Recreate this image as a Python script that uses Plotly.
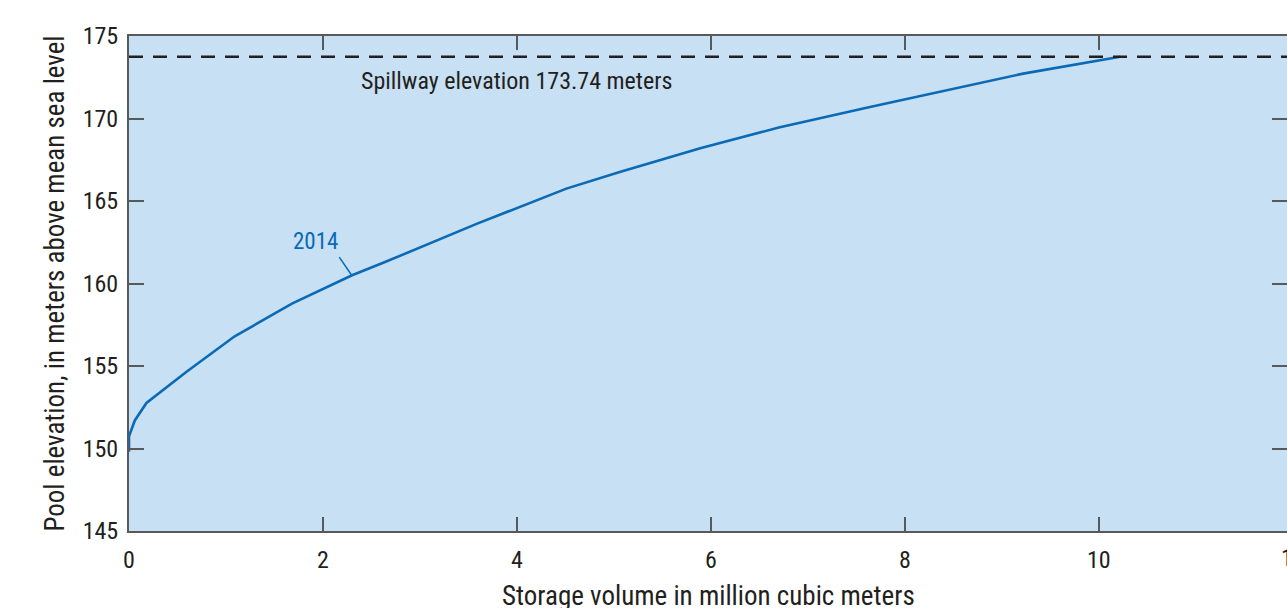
import plotly.graph_objects as go

# Elevation-storage curve, 2014 survey
storage_mcm = [0.0, 0.0, 0.06, 0.18, 0.59, 1.09, 1.68, 2.30, 2.64, 3.59,
               4.51, 5.06, 5.89, 6.70, 7.64, 9.22, 10.22]
elevation_m = [149.8, 150.74, 151.7, 152.76, 154.64, 156.80, 158.78, 160.50,
               161.30, 163.63, 165.75, 166.76, 168.20, 169.45, 170.70, 172.72, 173.74]

spillway_elev = 173.74
x_range = [0, 11.94]
x_ticks = [0, 2, 4, 6, 8, 10, 12]
y_ticks = [145, 150, 155, 160, 165, 170, 175]

FONT = "Liberation Sans Narrow, Roboto Condensed, DejaVu Sans Condensed, Arial Narrow, sans-serif"
TEXT = "#231f20"
AXIS = "#58595b"
BLUE = "#0a6ab6"

fig = go.Figure()

fig.add_trace(go.Scatter(
    x=storage_mcm, y=elevation_m, mode="lines",
    line=dict(color=BLUE, width=2.6), showlegend=False, hoverinfo="skip",
))

# invisible trace on a right-hand axis so the right ticks show without a line
fig.add_trace(go.Scatter(x=[None], y=[None], yaxis="y2", showlegend=False))

# spillway crest
fig.add_shape(type="line", xref="paper", x0=0, x1=1, yref="y",
              y0=spillway_elev, y1=spillway_elev,
              line=dict(color="#231f20", width=2.6, dash="14px,10px"))
fig.add_annotation(x=4, y=172.3, xref="x", yref="y",
                   text=f"Spillway elevation {spillway_elev:.2f} meters",
                   showarrow=False, font=dict(family=FONT, size=24, color=TEXT))

# curve label with leader
fig.add_annotation(x=1.923, y=162.54, xref="x", yref="y", text="2014",
                   showarrow=False, font=dict(family=FONT, size=23, color=BLUE))
fig.add_shape(type="line", xref="x", yref="y", x0=2.168, y0=161.6, x1=2.296, y1=160.5,
              line=dict(color=BLUE, width=1.5))

# last tick label sits past the visible edge of the plot
fig.add_annotation(x=x_ticks[-1] / x_range[1], y=0, xref="paper", yref="paper",
                   xanchor="center", yanchor="top", yshift=-11,
                   text=str(x_ticks[-1]), showarrow=False,
                   font=dict(family=FONT, size=24, color=TEXT))

# x-axis title, set low so it runs off the bottom edge
fig.add_annotation(x=0.5, y=0, xref="paper", yref="paper",
                   xanchor="center", yanchor="top", yshift=-47,
                   text="Storage volume in million cubic meters", showarrow=False,
                   font=dict(family=FONT, size=27, color=TEXT))

fig.update_layout(
    width=1287, height=608,
    margin=dict(l=129, r=0, t=36, b=77),
    paper_bgcolor="white", plot_bgcolor="#c8e0f3",
    font=dict(family=FONT, size=24, color=TEXT),
    xaxis=dict(
        range=x_range, tickvals=x_ticks[:-1], ticks="inside", ticklen=14,
        tickwidth=1.6, tickcolor=AXIS, showline=True, linecolor=AXIS, linewidth=2,
        mirror="ticks", showgrid=False, zeroline=False, ticklabelstandoff=6,
        automargin=False,
    ),
    yaxis=dict(
        range=[145, 175], tickvals=y_ticks, ticks="inside", ticklen=15,
        tickwidth=1.6, tickcolor=AXIS, showline=True, linecolor=AXIS, linewidth=2,
        showgrid=False, zeroline=False, ticklabelstandoff=4, automargin=False,
        title=dict(text="Pool elevation, in meters above mean sea level",
                   font=dict(family=FONT, size=27, color=TEXT), standoff=10),
    ),
    yaxis2=dict(
        overlaying="y", side="right", range=[145, 175], tickvals=y_ticks,
        ticks="inside", ticklen=15, tickwidth=1.6, tickcolor=AXIS,
        showticklabels=False, showline=False, showgrid=False, zeroline=False,
    ),
)

fig.write_html("out.html")
